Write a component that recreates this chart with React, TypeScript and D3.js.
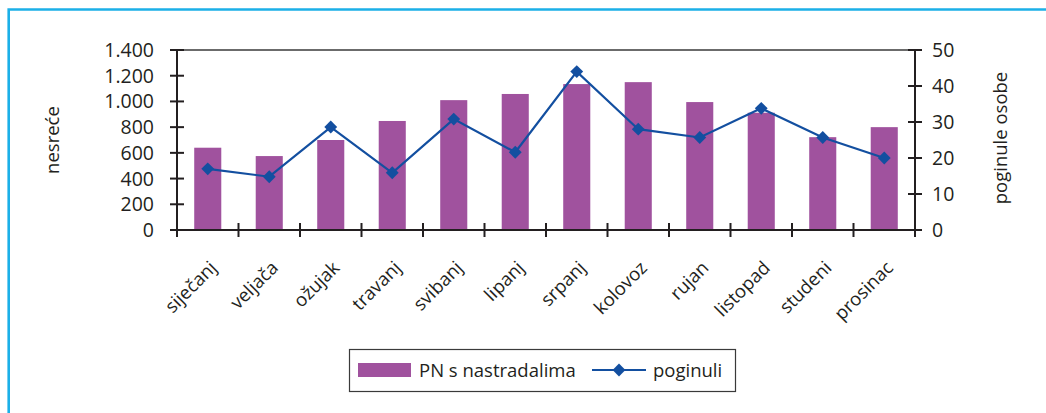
import React from 'react';
import * as d3 from 'd3';

const months = ['siječanj', 'veljača', 'ožujak', 'travanj', 'svibanj', 'lipanj', 'srpanj', 'kolovoz', 'rujan', 'listopad', 'studeni', 'prosinac'];
const accidents = [640, 575, 700, 848, 1010, 1058, 1135, 1150, 995, 912, 722, 800];
const killed = [17, 14.8, 28.6, 15.9, 30.8, 21.6, 44, 28, 25.7, 33.8, 25.7, 20];
const leftTicks = [0, 200, 400, 600, 800, 1000, 1200, 1400];
const rightTicks = [0, 10, 20, 30, 40, 50];

const barColor = '#A0529E';
const lineColor = '#134FA0';
const ink = '#231F20';
const font = '"Open Sans", sans-serif';

const W = 1046;
const H = 413;
const m = { left: 177, right: 915, top: 50, bottom: 230 };

const fmt = (v: number) => d3.format(',')(v).replace(/,/g, '.');

export default function App() {
  const x = d3.scaleBand<string>().domain(months).range([m.left, m.right]).paddingInner(0.56).paddingOuter(0.28);
  const band = d3.scaleBand<string>().domain(months).range([m.left, m.right]);
  const yL = d3.scaleLinear().domain([0, 1400]).range([m.bottom, m.top]);
  const yR = d3.scaleLinear().domain([0, 50]).range([m.bottom, m.top]);

  const cx = (d: string) => (band(d) as number) + band.bandwidth() / 2;
  const line = d3.line<number>()
    .x((_, i) => cx(months[i]))
    .y(d => yR(d));
  const diamond = d3.symbol().type(d3.symbolDiamond2).size(105)();
  const tick = 7;

  return (
    <svg width={W} height={H} style={{ position: 'absolute', left: 0, top: 0, fontFamily: font }}>
      <rect width={W} height={H} fill="#fff" />
      {/* blue frame, open on right and bottom */}
      <path d={`M8.7 ${H} V9.5 H${W}`} fill="none" stroke="#1CB0E8" strokeWidth={2.6} />

      {/* bars */}
      {months.map((mo, i) => (
        <rect key={mo} x={x(mo)} y={yL(accidents[i])} width={x.bandwidth()} height={m.bottom - yL(accidents[i])} fill={barColor} />
      ))}

      {/* plot top frame */}
      <line x1={m.left} x2={m.right} y1={m.top} y2={m.top} stroke="#3a3a3a" strokeWidth={1.4} />

      {/* left axis */}
      <line x1={m.left} x2={m.left} y1={m.top} y2={m.bottom + tick} stroke={ink} strokeWidth={2} />
      {leftTicks.map(t => (
        <g key={t}>
          <line x1={m.left - tick} x2={m.left + tick} y1={yL(t)} y2={yL(t)} stroke={ink} strokeWidth={2} />
          <text x={m.left - 23} y={yL(t)} dy="0.36em" textAnchor="end" fontSize={19.5} fill={ink}>{fmt(t)}</text>
        </g>
      ))}

      {/* right axis */}
      <line x1={m.right} x2={m.right} y1={m.top} y2={m.bottom + tick} stroke={ink} strokeWidth={2} />
      {rightTicks.map(t => (
        <g key={t}>
          <line x1={m.right - tick} x2={m.right + tick} y1={yR(t)} y2={yR(t)} stroke={ink} strokeWidth={2} />
          <text x={m.right + 17} y={yR(t)} dy="0.36em" textAnchor="start" fontSize={19.5} fill={ink}>{t}</text>
        </g>
      ))}

      {/* bottom axis */}
      <line x1={m.left - tick} x2={m.right} y1={m.bottom} y2={m.bottom} stroke={ink} strokeWidth={2} />
      {months.slice(1).map(mo => (
        <line key={mo} x1={band(mo)} x2={band(mo)} y1={m.bottom - tick} y2={m.bottom + tick} stroke={ink} strokeWidth={2} />
      ))}
      {months.map(mo => (
        <text key={mo} transform={`translate(${cx(mo) + 10},${m.bottom + 39}) rotate(-45)`} textAnchor="end" fontSize={18.5} fill={ink}>{mo}</text>
      ))}

      {/* killed line */}
      <path d={line(killed) as string} fill="none" stroke={lineColor} strokeWidth={2.2} />
      {killed.map((v, i) => (
        <path key={i} d={diamond as string} transform={`translate(${cx(months[i])},${yR(v)})`} fill={lineColor} />
      ))}

      {/* axis titles */}
      <text transform="translate(59,140) rotate(-90)" textAnchor="middle" fontSize={18.5} fill={ink}>nesreće</text>
      <text transform="translate(1007,138) rotate(-90)" textAnchor="middle" fontSize={18.5} fill={ink}>poginule osobe</text>

      {/* legend */}
      <rect x={349.5} y={349.5} width={386} height={42} fill="#fff" stroke="#3a3a3a" strokeWidth={1.2} />
      <rect x={358} y={363} width={53} height={14} fill={barColor} />
      <text x={419} y={377} fontSize={18.5} fill={ink}>PN s nastradalima</text>
      <line x1={592} x2={646} y1={370} y2={370} stroke={lineColor} strokeWidth={2.2} />
      <path d={diamond as string} transform="translate(619,370)" fill={lineColor} />
      <text x={653} y={377} fontSize={18.5} fill={ink}>poginuli</text>
    </svg>
  );
}
